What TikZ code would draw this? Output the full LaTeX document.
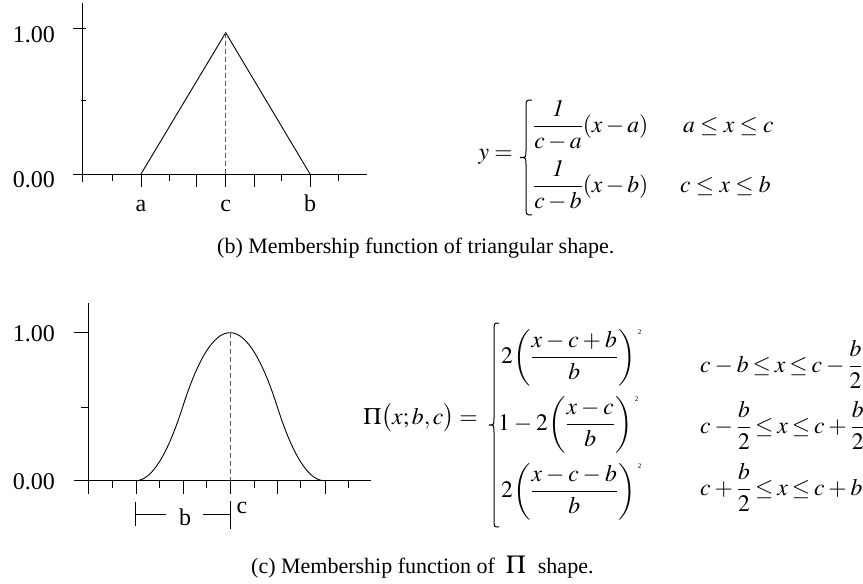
\documentclass[tikz,border=0pt]{standalone}
\usepackage{amsmath}
\usepackage{mathptmx}
\usepackage[no-math]{fontspec}
\setmainfont{Liberation Serif}
\newcommand{\tightsp}{\medmuskip=3mu\relax\thickmuskip=3mu\relax}
\begin{document}
\begin{tikzpicture}[x=1pt,y=-1pt,
  ax/.style={line width=0.9pt},
  fn/.style={line width=0.9pt},
  bracepath/.style={line width=1pt},
  dashln/.style={line width=0.9pt, dash pattern=on 5pt off 3pt, black!65},
  lbl/.style={font=\fontsize{24}{26}\selectfont, inner sep=0pt},
  eq/.style={font=\fontsize{23.6}{26}\selectfont, inner sep=0pt},
  sup/.style={font=\fontsize{7}{8}\selectfont, inner sep=0pt},
  captext/.style={font=\fontsize{22}{24}\selectfont, inner sep=0pt}]
\useasboundingbox (0,0) rectangle (863,584);

% ---------------- triangular plot ----------------
\draw[ax] (82.5,3) -- (82.5,182);
\draw[ax] (73,174) -- (367,174);
\draw[ax] (73,28.5) -- (86,28.5);
\draw[ax] (81,100.7) -- (86,100.7);
\foreach \x in {141,196.7,225.7,254,310} \draw[ax] (\x,174) -- (\x,187);
\foreach \x in {112.3,169,281.7,338} \draw[ax] (\x,174) -- (\x,180.5);
\coordinate (ta) at (141,174);
\coordinate (tc) at (225.7,32.7);
\coordinate (tb) at (310,174);
\coordinate (tcb) at (225.7,174);
\draw[fn] (ta) -- (tc) -- (tb);
\draw[dashln] (tc) -- (tcb);
\node[lbl, anchor=base east] (t100) at (55,42) {1.00};
\node[lbl, anchor=base east] (t000) at (55,187) {0.00};
\node[lbl, anchor=base] (la) at (141,211) {a};
\node[lbl, anchor=base] (lc) at (225.7,211) {c};
\node[lbl, anchor=base] (lb) at (310,211) {b};

% triangular formula
\node[eq, anchor=base east] (yeq) at (513,159.5) {$y=$};
\draw[bracepath] (532,100) .. controls (526,100) .. (526,108) -- (526,150)
  .. controls (526,157.5) .. (520,157.5) .. controls (526,157.5) .. (526,165)
  -- (526,207) .. controls (526,215) .. (532,215);
\node[eq, anchor=base west] (r1) at (533,132.2) {$\dfrac{\mathit{1}}{c-a}(x-a)$};
\node[eq, anchor=base west] (c1) at (683,132) {$a\le x\le c$};
\node[eq, anchor=base west] (r2) at (533,192.2) {$\dfrac{\mathit{1}}{c-b}(x-b)$};
\node[eq, anchor=base west] (c2) at (680,192) {$c\le x\le b$};

\node[captext, anchor=base west] (capb) at (217,253.3) {(b) Membership function of triangular shape.};

% ---------------- Pi plot ----------------
\draw[ax] (88.3,303) -- (88.3,494);
\draw[ax] (74,480.7) -- (371,480.7);
\draw[ax] (74,332.7) -- (88.3,332.7);
\draw[ax] (81,407.3) -- (88.3,407.3);
\foreach \x in {136,183.3,230,277.3,325} \draw[ax] (\x,480.7) -- (\x,494.3);
\foreach \x in {112.3,159.3,206.7,254,300.7,348.3} \draw[ax] (\x,480.7) -- (\x,487.5);
\draw[fn] plot[domain=135.5:182.75, samples=40] (\x,{480.7-148*2*((\x-135.5)/94.5)^2})
  -- plot[domain=182.75:277.25, samples=80] (\x,{480.7-148*(1-2*((\x-230)/94.5)^2)})
  -- plot[domain=277.25:324.5, samples=40] (\x,{480.7-148*2*((\x-324.5)/94.5)^2});
\coordinate (pc) at (230,332.7);
\coordinate (pcb) at (230,480.7);
\draw[dashln] (pc) -- (pcb);
\node[lbl, anchor=base east] (p100) at (55,341) {1.00};
\node[lbl, anchor=base east] (p000) at (55,489) {0.00};
% dimension b
\coordinate (dl1) at (135,501.7);
\coordinate (dl2) at (135,526);
\coordinate (dr1) at (230,501);
\coordinate (dr2) at (230,529);
\draw[ax] (dl1) -- (dl2);
\draw[ax] (dr1) -- (dr2);
\node[lbl, anchor=base] (db) at (185,525) {b};
\coordinate (dm1) at (135,514);
\coordinate (dm2) at (230,514);
\draw[ax] (dm1) -- (166,514);
\draw[ax] (203.3,514) -- (dm2);
\node[lbl, anchor=base] (dc) at (242,513) {c};

% Pi formula
\node[eq, anchor=base east] (pieq) at (478,424) {$\Pi\bigl(x;b,c\bigr)=$};
\draw[bracepath] (499,323) .. controls (494,323) .. (494,331) -- (494,417)
  .. controls (494,425) .. (489,425) .. controls (494,425) .. (494,433)
  -- (494,519) .. controls (494,527) .. (499,527);
\node[eq, anchor=base west] (q1) at (501,363.5) {$\tightsp 2\!\left(\dfrac{x-c+b}{b}\right)$};
\node[eq, anchor=base west] (q2) at (498,430.5) {$\tightsp 1-2\!\left(\dfrac{x-c}{b}\right)$};
\node[eq, anchor=base west] (q3) at (501,497.5) {$\tightsp 2\!\left(\dfrac{x-c-b}{b}\right)$};
\node[sup, anchor=north west] (s1) at ([shift={(2,1)}]q1.north east) {2};
\node[sup, anchor=north west] (s2) at ([shift={(2,1)}]q2.north east) {2};
\node[sup, anchor=north west] (s3) at ([shift={(2,1)}]q3.north east) {2};
\node[eq, anchor=base west] (k1) at (700,372.2) {$\tightsp c-b\le x\le c-\dfrac{b}{2}$};
\node[eq, anchor=base west] (k2) at (700,433.8) {$\tightsp c-\dfrac{b}{2}\le x\le c+\dfrac{b}{2}$};
\node[eq, anchor=base west] (k3) at (700,495.5) {$\tightsp c+\dfrac{b}{2}\le x\le c+b$};

\node[captext, anchor=base west] (capc) at (251,573) {(c) Membership function of\hspace{11pt}{\fontsize{26}{28}\selectfont$\Pi$}\hspace{12pt}shape.};
\end{tikzpicture}
\end{document}
